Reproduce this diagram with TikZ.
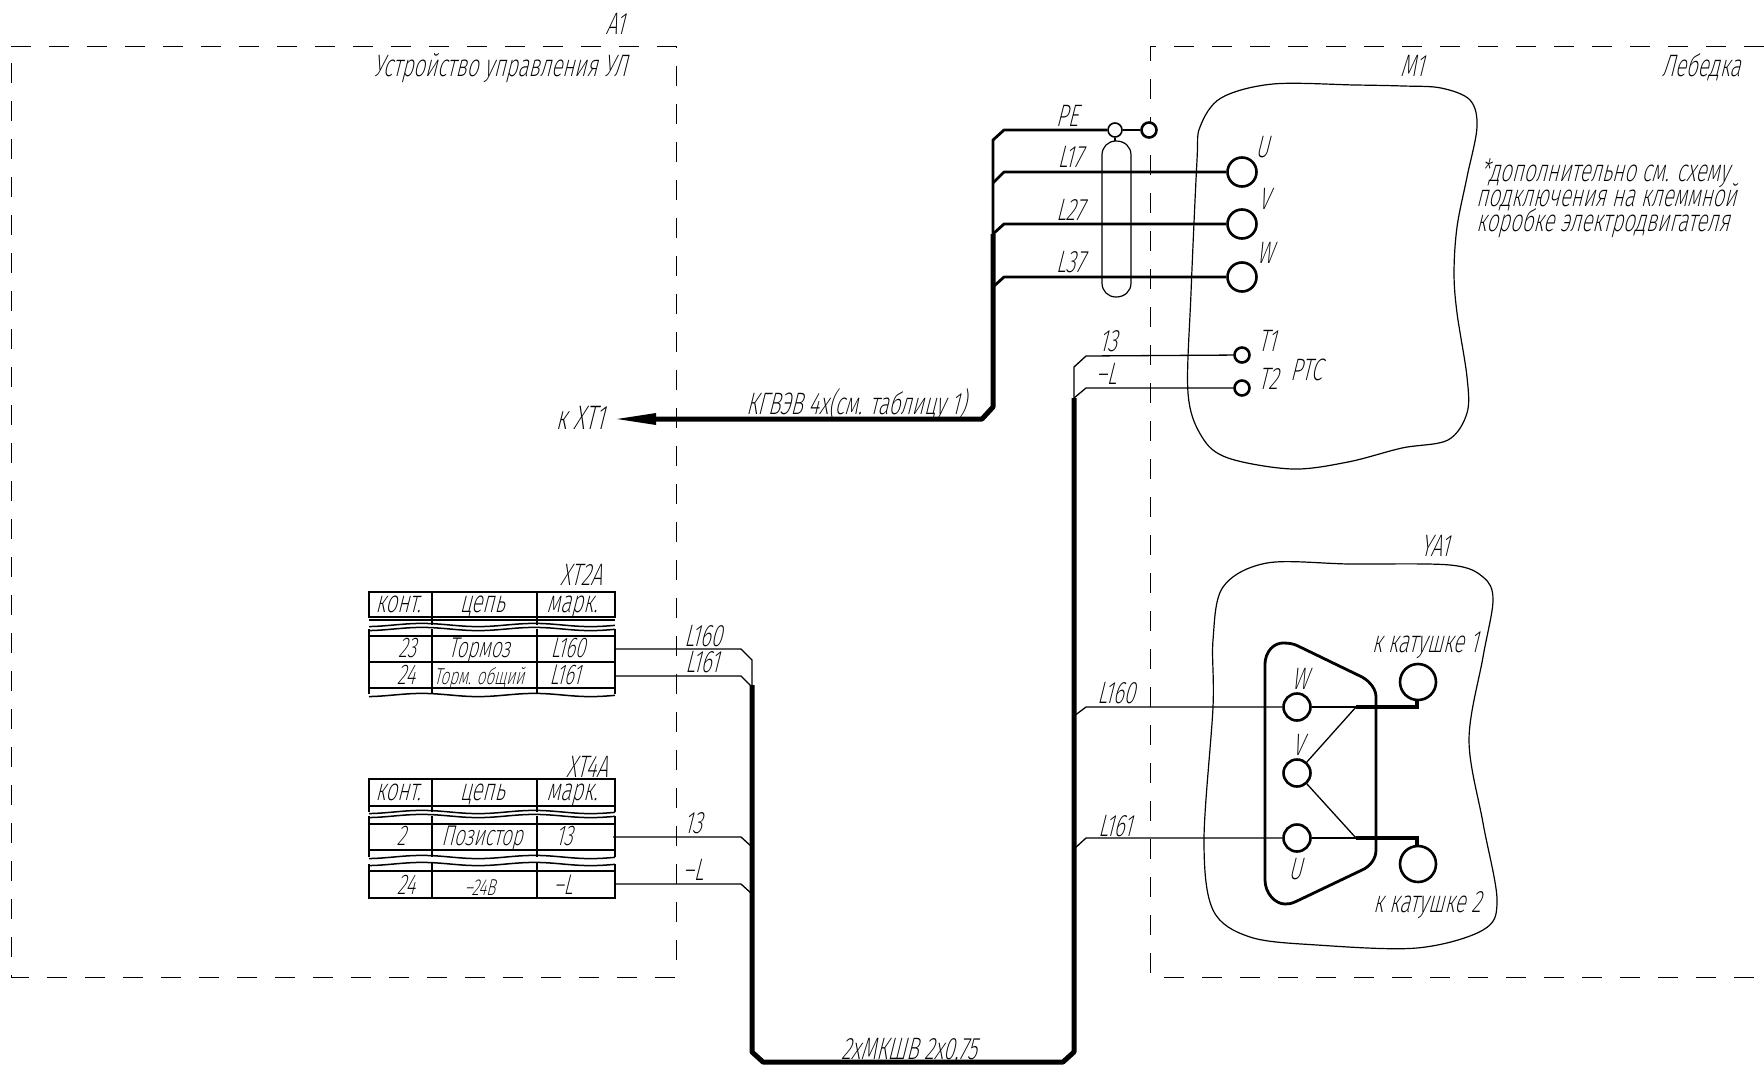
\documentclass[tikz,border=0pt]{standalone}
\usepackage{fontspec}
\setmainfont{Fira Sans}
\newfontfamily\gost[FakeStretch=0.665,FakeSlant=0.25]{Fira Sans ExtraLight}
\tikzset{
  x=1pt,y=-1pt,
  lbl/.style={font=\gost\fontsize{31}{31}\selectfont,inner sep=0pt,anchor=center,text=black,text height=22pt,text depth=0pt,yshift=-2pt},
  lblcell/.style={lbl,font=\gost\fontsize{28.5}{28.5}\selectfont},
  lblsm/.style={lbl,font=\gost\fontsize{23}{23}\selectfont},
  frameline/.style={line width=1pt,dash pattern=on 20pt off 18pt,dash phase=0pt},
  blobline/.style={line width=1.2pt},
  thinw/.style={line width=1.3pt,line join=miter},
  medw/.style={line width=2.8pt,line join=round},
  thickw/.style={line width=5pt,line join=round},
  tabline/.style={line width=1.5pt},
  tabthick/.style={line width=2.4pt},
  term/.style={circle,draw,fill=white,inner sep=0pt,line width=2.6pt,minimum size=#1},
}
\newcommand{\wavyrow}[1]{\draw[tabline] plot[domain=369:615,samples=50,smooth] (\x,{#1+1.6*sin(\x*3.2)});}
\begin{document}
\begin{tikzpicture}
\useasboundingbox (0,0) rectangle (1764,1065);
% frames
\draw[frameline] (11,47) -- (676,47) -- (676,977) -- (11,977) -- cycle;
\draw[frameline] (1764,47) -- (1150,47) -- (1150,977) -- (1764,977);
% blobs
\draw[blobline] plot[smooth cycle,tension=.55] coordinates {(1355,85)(1273,84)(1221,98)(1200,127)(1197,160)(1191,293)(1188,393)(1202,437)(1228,458)(1292,469)(1348,462)(1402,448)(1448,440)(1467,413)(1467,377)(1457,313)(1454,273)(1457,227)(1467,177)(1477,127)(1470,100)(1441,88)(1403,86)};
\draw[blobline] plot[smooth cycle,tension=.55] coordinates {(1267,563)(1350,564)(1450,565)(1483,577)(1493,600)(1483,657)(1469,740)(1483,823)(1497,900)(1483,930)(1417,948)(1317,945)(1250,937)(1213,910)(1204,840)(1213,707)(1213,640)(1223,587)};
% connector body YA1
\draw[line width=2.8pt,line join=round] (1265,665) .. controls (1265,650) and (1275,643) .. (1283,643) .. controls (1290,643) and (1294,644) .. (1298,646) -- (1362,677) .. controls (1371,682) and (1376,690) .. (1376,697) -- (1376,850) .. controls (1376,858) and (1371,866) .. (1362,870) -- (1297,901) .. controls (1291,904) and (1288,904) .. (1285,904) .. controls (1275,904) and (1265,893) .. (1265,880) -- cycle;
% table XT2A
\coordinate (t2a) at (615,649);
\coordinate (t2b) at (615,676);
\draw[tabline] (369,592) rectangle (615,617);
\draw[tabthick] (369,620) -- (615,620);
\foreach \xx in {432,537} {
  \draw[tabline] (\xx,592) -- (\xx,625);
  \draw[tabline] (\xx,629) -- (\xx,694);
}
\wavyrow{625}
\wavyrow{629}
\draw[tabline] (369,629) -- (369,694);
\draw[tabline] (615,629) -- (615,694);
\draw[tabline] (369,636) -- (615,636);
\draw[tabthick] (369,662) -- (615,662);
\draw[tabthick] (369,688) -- (615,688);
\wavyrow{695}
% table XT4A
\coordinate (t4a) at (613,837);
\coordinate (t4b) at (615,884);
\draw[tabline] (369,779) rectangle (615,806);
\draw[tabline] (369,806) -- (369,812);
\draw[tabline] (615,806) -- (615,812);
\foreach \xx in {432,537} {
  \draw[tabline] (\xx,779) -- (\xx,812);
  \draw[tabline] (\xx,816) -- (\xx,857);
  \draw[tabline] (\xx,863) -- (\xx,898);
}
\wavyrow{812}
\wavyrow{816}
\draw[tabline] (369,816) -- (369,857);
\draw[tabline] (615,816) -- (615,857);
\draw[tabline] (369,824) -- (615,824);
\draw[tabthick] (369,850) -- (615,850);
\wavyrow{857}
\wavyrow{864}
\draw[tabline] (369,864) -- (369,898) -- (615,898) -- (615,864);
\draw[tabline] (369,871) -- (615,871);
% terminals
\node[term=14pt,line width=1.6pt] (pe1) at (1115,130) {};
\node[term=15pt] (pe2) at (1149,130) {};
\node[term=29pt] (tU) at (1242,172) {};
\node[term=29pt] (tV) at (1242,224) {};
\node[term=29pt] (tW) at (1242,277) {};
\node[term=15pt] (t1) at (1242,355) {};
\node[term=15pt] (t2) at (1242,388) {};
\node[term=27pt] (yW) at (1297,707) {};
\node[term=27pt] (yV) at (1297,773) {};
\node[term=27pt] (yU) at (1297,838) {};
\node[term=36pt] (k1) at (1418,682) {};
\node[term=36pt] (k2) at (1418,864) {};
\coordinate (j1) at (1356,707);
\coordinate (j2) at (1356,838);
\coordinate (bus1) at (1074,398);
\coordinate (bus2) at (752,685);
\coordinate (arrowbase) at (640,419);
% screen
\draw[blobline] (1102,155) .. controls (1102,147) and (1108,141) .. (1116,141) .. controls (1125,141) and (1131,147) .. (1131,155) -- (1131,283) .. controls (1131,291) and (1125,297) .. (1116,297) .. controls (1108,297) and (1102,291) .. (1102,283) -- cycle;
\draw[blobline] (pe1) -- (1115,141);
% main power cable
\draw[thickw] (arrowbase) -- (982,419) -- (993,407) -- (993,234);
\draw[medw] (993,236) -- (993,140) -- (1004,130) -- (pe1);
\draw[medw] (pe1) -- (pe2);
\draw[medw] (993,183) -- (1004,172) -- (tU);
\draw[medw] (993,234) -- (1004,224) -- (tV);
\draw[medw] (993,287) -- (1004,277) -- (tW);
\fill (617,419) -- (656,413) -- (656,425) -- cycle;
% control cable
\draw[thickw] (bus2) -- (752,1052) -- (763,1062) -- (1063,1062) -- (1074,1052) -- (bus1);
\draw[thinw] (t2a) -- (741,649) -- (752,660) -- (bus2);
\draw[thinw] (t2b) -- (741,676) -- (752,687);
\draw[thinw] (t4a) -- (741,837) -- (752,847);
\draw[thinw] (t4b) -- (741,884) -- (752,894);
\draw[thinw] (bus1) -- (1074,367) -- (1086,356) -- (t1);
\draw[thinw] (bus1) -- (1086,388) -- (t2);
\draw[thinw] (1074,716) -- (1086,707) -- (yW);
\draw[thinw] (1074,849) -- (1086,838) -- (yU);
\draw[thinw] (yW) -- (j1);
\draw[thinw] (yU) -- (j2);
\draw[thinw] (j1) -- (yV);
\draw[thinw] (j2) -- (yV);
\draw[line width=4pt,line join=miter] (j1) -- (1417,707) -- (1417,699);
\draw[line width=4pt,line join=miter] (j2) -- (1417,838) -- (1417,847);
% labels
\node[lbl] (a1) at (615,22) {A1};
\node[lbl] (ul) at (500,64) {Устройство управления УЛ};
\node[lbl] (m1) at (1412,64) {M1};
\node[lbl] (leb) at (1701,64) {Лебедка};
\node[lbl,anchor=west] (n1) at (1480,168) {*дополнительно см. схему};
\node[lbl,anchor=west] (n2) at (1476,193) {подключения на клеммной};
\node[lbl,anchor=west] (n3) at (1476,218) {коробке электродвигателя};
\node[lbl] (lpe) at (1067,113) {PE};
\node[lbl] (l17) at (1070,154) {L17};
\node[lbl] (l27) at (1070,207) {L27};
\node[lbl] (l37) at (1070,259) {L37};
\node[lbl] (lU) at (1262,144) {U};
\node[lbl] (lV) at (1264,196) {V};
\node[lbl] (lW) at (1265,250) {W};
\node[lbl] (lT1) at (1267,338) {T1};
\node[lbl] (lT2) at (1268,376) {T2};
\node[lbl] (lPTC) at (1306,367) {PTC};
\node[lbl] (l13u) at (1108,338) {13};
\node[lbl] (lLu) at (1106,371) {–L};
\node[lbl] (lcab) at (856,401) {КГВЭВ 4х(см. таблицу 1)};
\node[lbl,font=\gost\fontsize{34}{34}\selectfont] (kx) at (580,416) {к ХТ1};
\node[lbl] (lcab2) at (909,1046) {2хМКШВ 2х0,75};
\node[lbl] (xt2) at (581,572) {XT2A};
\node[lbl] (xt4) at (587,764) {XT4A};
\node[lbl] (c1a) at (398,599) {конт.};
\node[lbl] (c1b) at (482,599) {цепь};
\node[lbl] (c1c) at (572,599) {марк.};
\node[lblcell] (r1a) at (407,644) {23};
\node[lblcell] (r1b) at (479,644) {Тормоз};
\node[lblcell] (r1c) at (568,644) {L160};
\node[lblcell] (r2a) at (406,671) {24};
\node[lblsm] (r2b) at (479,671) {Торм. общий};
\node[lblcell] (r2c) at (565,671) {L161};
\node[lbl] (c2a) at (398,787) {конт.};
\node[lbl] (c2b) at (482,787) {цепь};
\node[lbl] (c2c) at (572,787) {марк.};
\node[lblcell] (r3a) at (401,832) {2};
\node[lblcell] (r3b) at (482,832) {Позистор};
\node[lblcell] (r3c) at (564,832) {13};
\node[lblcell] (r4a) at (406,881) {24};
\node[lblsm] (r4b) at (480,882) {–24В};
\node[lblcell] (r4c) at (563,881) {–L};
\node[lbl] (w1) at (703,633) {L160};
\node[lbl] (w2) at (702,659) {L161};
\node[lbl] (w3) at (693,820) {13};
\node[lbl] (w4) at (693,867) {–L};
\node[lbl] (w5) at (1116,690) {L160};
\node[lbl] (w6) at (1115,823) {L161};
\node[lbl] (lyW) at (1300,676) {W};
\node[lbl] (lyV) at (1298,742) {V};
\node[lbl] (lyU) at (1295,866) {U};
\node[lbl] (lk1) at (1425,639) {к катушке 1};
\node[lbl] (lk2) at (1427,899) {к катушке 2};
\node[lbl] (lya) at (1435,543) {YA1};
\end{tikzpicture}
\end{document}
